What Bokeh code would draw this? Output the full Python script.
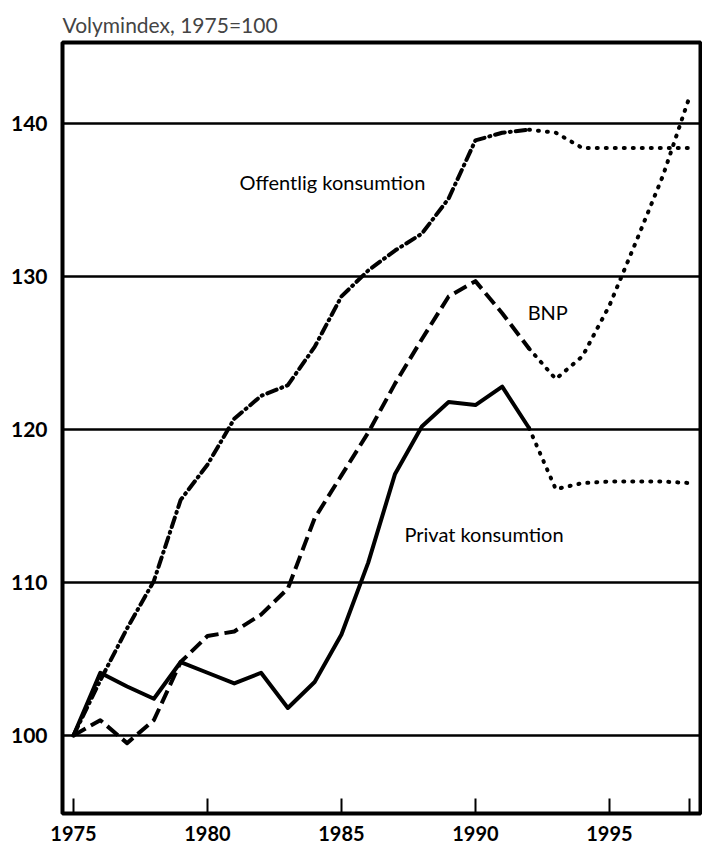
from bokeh.plotting import figure
from bokeh.models import FixedTicker, Label, Range1d
from bokeh.embed import file_html
from bokeh.resources import INLINE

years = list(range(1975, 1999))
privat = [100, 104.1, 103.2, 102.4, 104.8, 104.1, 103.4, 104.1, 101.8, 103.5,
          106.6, 111.3, 117.1, 120.2, 121.8, 121.6, 122.8, 120.1, 116.1, 116.5,
          116.6, 116.6, 116.6, 116.5]
bnp = [100, 101.0, 99.5, 101.0, 104.8, 106.5, 106.8, 107.9, 109.6, 114.2,
       117.0, 119.8, 123.0, 125.9, 128.7, 129.7, 127.6, 125.3, 123.3, 124.8,
       128.1, 132.3, 136.6, 141.8]
offentlig = [100, 103.6, 107.0, 110.1, 115.4, 117.7, 120.7, 122.2, 122.9, 125.4,
             128.7, 130.4, 131.7, 132.8, 135.1, 138.9, 139.4, 139.6, 139.4, 138.4,
             138.4, 138.4, 138.4, 138.4]
split_year = 1992  # actual -> forecast (dotted)

x_ticks = [1975, 1980, 1985, 1990, 1995, 1998]
y_ticks = [100, 110, 120, 130, 140]

title_text = "Volymindex, 1975=100"
labels = [
    ("Offentlig konsumtion", 1981.2, 136.2),
    ("BNP", 1991.95, 127.7),
    ("Privat konsumtion", 1987.35, 113.2),
]

FONT = "Lato"

p = figure(frame_width=638, frame_height=771, output_backend="svg",
           toolbar_location=None,
           x_range=Range1d(1974.59, 1998.4), y_range=Range1d(94.9, 145.3),
           min_border_left=62, min_border_right=2, min_border_top=42,
           min_border_bottom=36)
p.title.text = title_text
p.title.align = "left"
p.title.text_font = FONT
p.title.text_font_size = "21px"
p.title.text_font_style = "normal"
p.title.offset = 0
p.title.standoff = 12

p.outline_line_color = "black"
p.outline_line_width = 4
p.background_fill_color = "white"
p.border_fill_color = "white"

p.xgrid.visible = False
p.ygrid.ticker = FixedTicker(ticks=y_ticks)
p.ygrid.grid_line_color = "black"
p.ygrid.grid_line_width = 2.5

xa = p.xaxis[0]
xa.ticker = FixedTicker(ticks=x_ticks)
xa.major_label_overrides = {1998: ""}
xa.axis_line_color = None
xa.major_tick_in = 15
xa.major_tick_out = 0
xa.major_tick_line_width = 2
xa.major_tick_line_color = "black"
xa.minor_tick_line_color = None
xa.major_label_standoff = 12
xa.major_label_text_font = FONT
xa.major_label_text_font_size = "20px"
xa.major_label_text_font_style = "bold"
xa.major_label_text_color = "black"

ya = p.yaxis[0]
ya.ticker = FixedTicker(ticks=y_ticks)
ya.axis_line_color = None
ya.major_tick_line_color = None
ya.minor_tick_line_color = None
ya.major_label_standoff = 9
ya.major_label_text_font = FONT
ya.major_label_text_font_size = "21px"
ya.major_label_text_font_style = "bold"
ya.major_label_text_color = "black"

k = years.index(split_year) + 1

def seg(ys, dash, a, b, cap="butt"):
    p.line(years[a:b], ys[a:b], line_color="black", line_width=4,
           line_dash=dash, line_cap=cap, line_join="round")

seg(privat, "solid", 0, k, cap="round")
seg(privat, "1 8", k - 1, len(years), cap="round")
seg(bnp, "14 6", 0, k)
seg(bnp, "1 8", k - 1, len(years), cap="round")
seg(offentlig, "10 5 1 5", 0, k, cap="round")
seg(offentlig, "1 8", k - 1, len(years), cap="round")

for txt, xx, yy in labels:
    p.add_layout(Label(x=xx, y=yy, text=txt, text_font=FONT,
                       text_font_size="20px", text_font_style="normal",
                       text_baseline="middle", text_align="left",
                       text_color="black"))

open("out.html", "w").write(file_html(p, INLINE))
